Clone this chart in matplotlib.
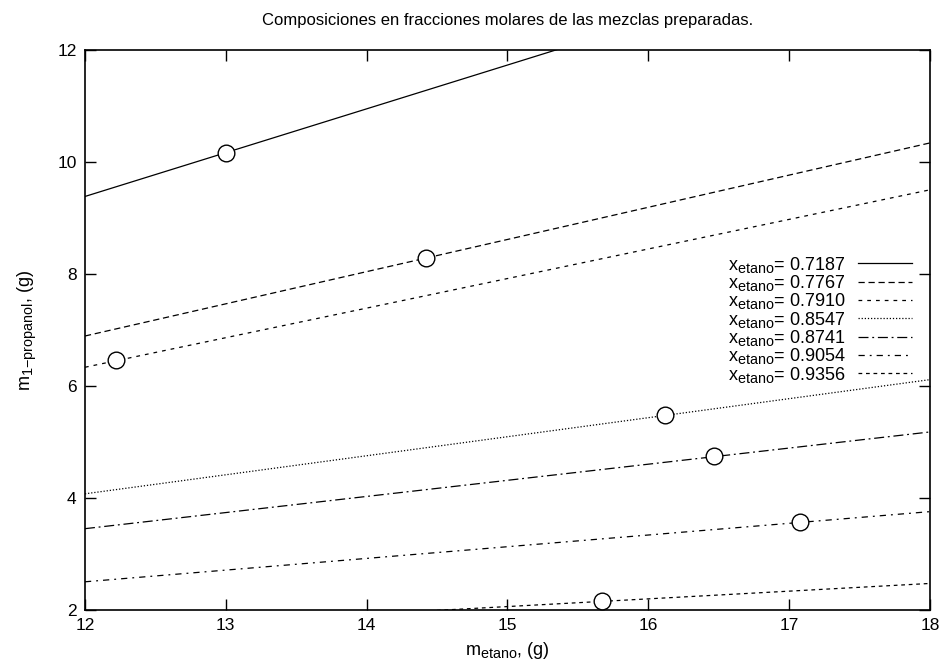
import numpy as np
import matplotlib
matplotlib.use("Agg")
import matplotlib.pyplot as plt
import matplotlib._mathtext as mt

plt.rcParams['font.family'] = ['Liberation Sans', 'DejaVu Sans']
plt.rcParams['mathtext.fontset'] = 'custom'
plt.rcParams['mathtext.rm'] = 'Liberation Sans'
plt.rcParams['mathtext.it'] = 'Liberation Sans'
# subscripts a bit larger than the default 0.7
mt.SHRINK_FACTOR = 0.8

# mole fractions of ethane in each prepared mixture
x_etano = [0.7187, 0.7767, 0.7910, 0.8547, 0.8741, 0.9054, 0.9356]
# molar masses (g/mol)
M_etano = 30.07
M_propanol = 60.10

# weighed masses of the prepared mixtures
m_etano_pts = [13.00, 14.42, 12.22, 16.12, 16.47, 17.08, 15.67]
m_prop_pts = [10.17, 8.29, 6.46, 5.48, 4.75, 3.57, 2.16]

# gnuplot-like line styles for each composition
styles = [
    '-',
    (0, (5, 3)),
    (0, (3, 4)),
    (0, (1, 1.5)),
    (0, (8, 3, 1.5, 3)),
    (0, (5, 4, 1.5, 4)),
    (0, (3, 3)),
]

fig = plt.figure(figsize=(9.44, 6.69), dpi=100)
ax = fig.add_axes([0.090, 0.088, 0.895, 0.837])

m = np.array([12.0, 18.0])
for x, ls in zip(x_etano, styles):
    k = (M_propanol / M_etano) * (1 - x) / x
    ax.plot(m, k * m, color='black', lw=0.9, linestyle=ls,
            label=r'x$_{\mathrm{etano}}$= %.4f' % x)

ax.plot(m_etano_pts, m_prop_pts, 'o', ms=12, mfc='white', mec='black',
        mew=1.0, zorder=5)

ax.set_xlim(12, 18)
ax.set_ylim(2, 12)
ax.set_xticks(range(12, 19))
ax.set_yticks([2, 4, 6, 8, 10, 12])
ax.tick_params(direction='in', length=8, width=1, top=True, right=True,
               labelsize=12.5, pad=6)
for s in ax.spines.values():
    s.set_linewidth(1.2)

ax.set_xlabel(r'm$_{\mathrm{etano}}$, (g)', fontsize=13, labelpad=5)
ax.set_ylabel(r'm$_{\mathrm{1{-}propanol}}$, (g)', fontsize=13, labelpad=14)
ax.set_title('Composiciones en fracciones molares de las mezclas preparadas.',
             fontsize=12, pad=18)

ax.legend(loc='upper right', bbox_to_anchor=(0.987, 0.648), frameon=False,
          markerfirst=False, fontsize=13, handlelength=2.95,
          labelspacing=-0.09, handletextpad=0.72, borderaxespad=0)

fig.savefig('out.png', dpi=100)
